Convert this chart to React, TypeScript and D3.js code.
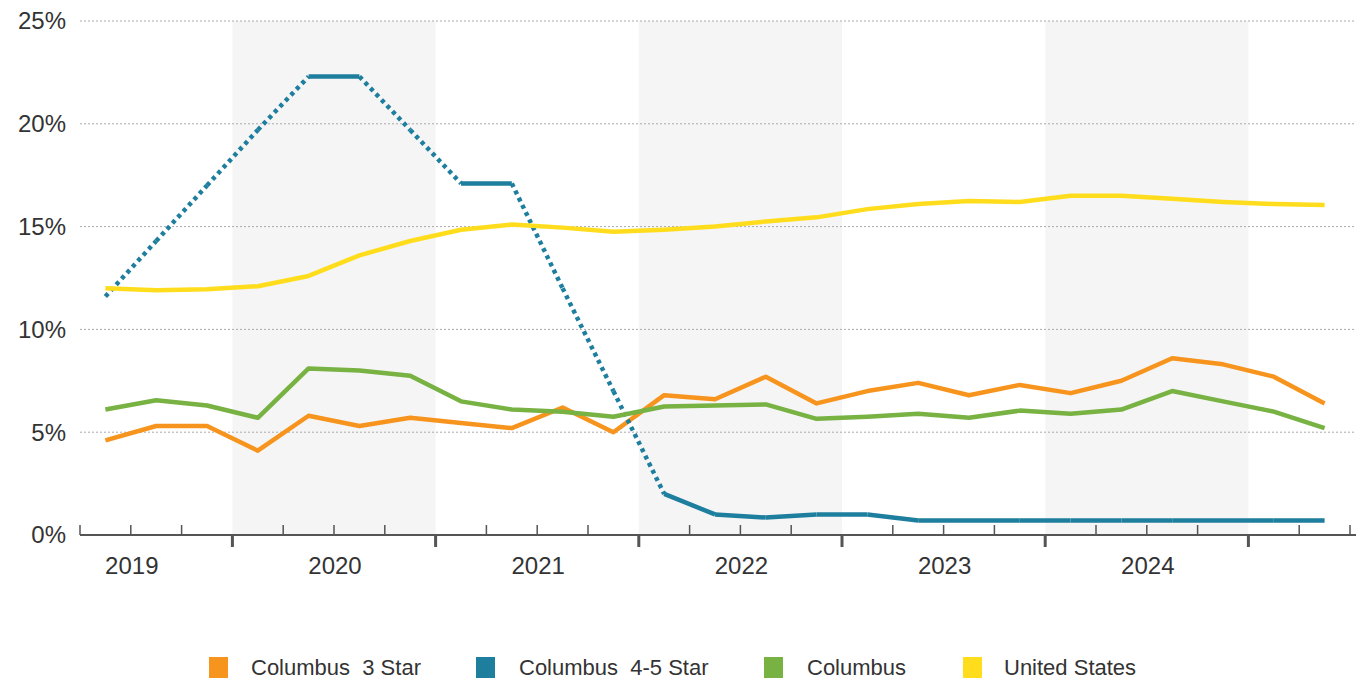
import { useEffect, useRef } from "react";
import * as d3 from "d3";

// quarters: 2019Q2 .. 2025Q2
const years = [2019, 2020, 2021, 2022, 2023, 2024];
const yTicks = [0, 5, 10, 15, 20, 25];
const columbus3 = [4.6, 5.3, 5.3, 4.1, 5.8, 5.3, 5.7, 5.45, 5.2, 6.2, 5.0, 6.8, 6.6, 7.7, 6.4, 7.0, 7.4, 6.8, 7.3, 6.9, 7.5, 8.6, 8.3, 7.7, 6.4];
const columbus45 = [11.6, 14.3, 17.0, 19.7, 22.3, 22.3, 19.7, 17.1, 17.1, 12.0, 7.0, 2.0, 1.0, 0.85, 1.0, 1.0, 0.7, 0.7, 0.7, 0.7, 0.7, 0.7, 0.7, 0.7, 0.7];
const columbus45Dotted = [0, 1, 2, 3, 5, 6, 8, 9, 10]; // segment start indices drawn dotted
const columbus = [6.1, 6.55, 6.3, 5.7, 8.1, 8.0, 7.75, 6.5, 6.1, 6.0, 5.75, 6.25, 6.3, 6.35, 5.65, 5.75, 5.9, 5.7, 6.05, 5.9, 6.1, 7.0, 6.5, 6.0, 5.2];
const unitedStates = [12.0, 11.9, 11.95, 12.1, 12.6, 13.6, 14.3, 14.85, 15.1, 14.95, 14.75, 14.85, 15.0, 15.25, 15.45, 15.85, 16.1, 16.25, 16.2, 16.5, 16.5, 16.35, 16.2, 16.1, 16.05];

const series = [
  { name: "Columbus  3 Star", color: "#F7941D", values: columbus3 },
  { name: "Columbus  4-5 Star", color: "#1E7E9E", values: columbus45 },
  { name: "Columbus", color: "#77B243", values: columbus },
  { name: "United States", color: "#FFDD1C", values: unitedStates },
];

export default function App() {
  const svgRef = useRef<SVGSVGElement>(null);

  useEffect(() => {
    const svg = d3.select(svgRef.current);
    svg.selectAll("*").remove();
    const font = "'Liberation Sans', Arial, sans-serif";

    // x in quarters since 2019Q1 start
    const x = d3.scaleLinear().domain([1, 26]).range([80, 1350]);
    const y = d3.scaleLinear().domain([0, 25]).range([535, 21]);
    const px = (i: number) => x(i + 1.5);

    // shaded year bands
    [2020, 2022, 2024].forEach((yr) => {
      const q0 = (yr - 2019) * 4;
      svg.append("rect").attr("x", x(q0)).attr("y", y(25)).attr("width", x(q0 + 4) - x(q0))
        .attr("height", y(0) - y(25)).attr("fill", "#f5f5f5");
    });

    // grid
    yTicks.forEach((t) => {
      if (t > 0)
        svg.append("line").attr("x1", 80).attr("x2", 1356).attr("y1", y(t)).attr("y2", y(t))
          .attr("stroke", "#aaa").attr("stroke-width", 1).attr("stroke-dasharray", "2 2");
      svg.append("text").attr("x", 66).attr("y", y(t)).attr("dy", "0.35em").attr("text-anchor", "end")
        .attr("font-family", font).attr("font-size", 24).attr("fill", "#333").text(`${t}%`);
    });

    // x axis
    svg.append("line").attr("x1", 80).attr("x2", 1356).attr("y1", y(0)).attr("y2", y(0))
      .attr("stroke", "#555").attr("stroke-width", 2);
    d3.range(1, 27).forEach((q) => {
      const major = q % 4 === 0;
      svg.append("line").attr("x1", x(q)).attr("x2", x(q)).attr("y1", y(0) - (major ? 0 : 10))
        .attr("y2", y(0) + (major ? 12 : 0)).attr("stroke", "#555").attr("stroke-width", major ? 3 : 1.5);
    });
    years.forEach((yr) => {
      const q0 = (yr - 2019) * 4;
      svg.append("text").attr("x", x(q0 + 2) + 1).attr("y", 574).attr("text-anchor", "middle")
        .attr("font-family", font).attr("font-size", 24).attr("fill", "#333").text(yr);
    });

    const line = d3.line<number>().x((_, i) => px(i)).y((d) => y(d));

    series.forEach((s, si) => {
      if (si === 1) {
        for (let i = 0; i < s.values.length - 1; i++) {
          const dotted = columbus45Dotted.includes(i);
          svg.append("line").attr("x1", px(i)).attr("y1", y(s.values[i])).attr("x2", px(i + 1))
            .attr("y2", y(s.values[i + 1])).attr("stroke", s.color).attr("stroke-width", 4.5)
            .attr("stroke-dasharray", dotted ? "4 4" : null);
        }
      } else {
        svg.append("path").attr("d", line(s.values)).attr("fill", "none").attr("stroke", s.color)
          .attr("stroke-width", 4.5).attr("stroke-linejoin", "round");
      }
    });

    // legend
    const lx = [209, 476, 764, 963];
    const tx = [251, 519, 807, 1004];
    series.forEach((s, i) => {
      svg.append("rect").attr("x", lx[i]).attr("y", 657).attr("width", 19).attr("height", 21).attr("fill", s.color);
      svg.append("text").attr("x", tx[i]).attr("y", 667).attr("dy", "0.35em")
        .attr("font-family", font).attr("font-size", 22).attr("fill", "#333")
        .style("white-space", "pre").text(s.name);
    });
  }, []);

  return (
    <div style={{ position: "absolute", left: 0, top: 0 }}>
      <svg ref={svgRef} width={1368} height={684} style={{ background: "#fff" }} />
    </div>
  );
}
